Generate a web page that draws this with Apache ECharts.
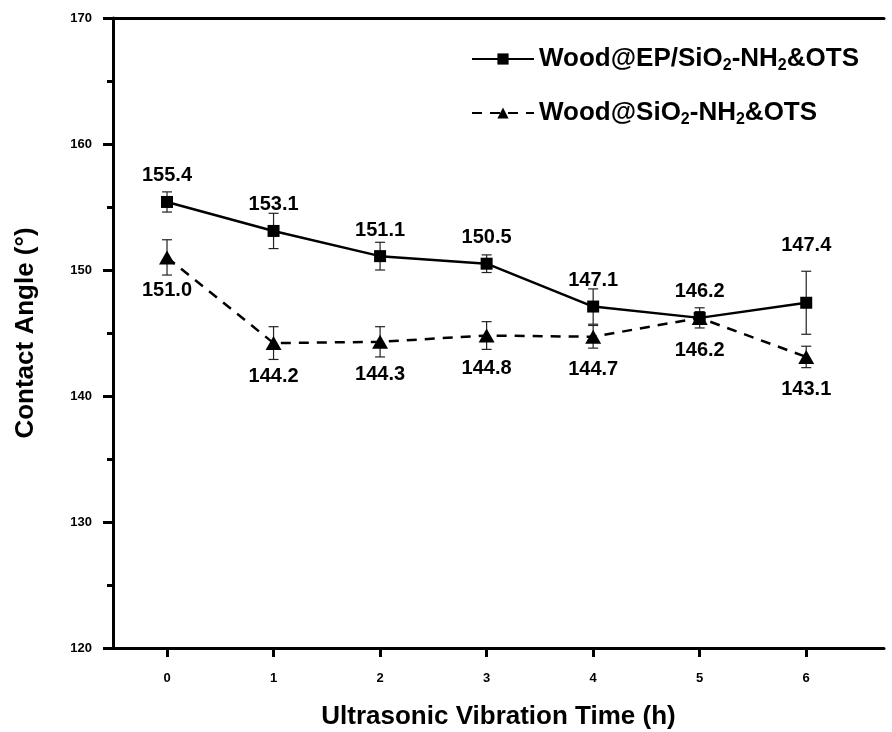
<!DOCTYPE html>
<html>
<head>
<meta charset="utf-8">
<title>Contact angle vs ultrasonic vibration time</title>
<script src="https://cdn.jsdelivr.net/npm/echarts@6/dist/echarts.min.js"></script>
<style>
  html, body { margin: 0; padding: 0; background: #fff; }
  #main { width: 892px; height: 732px; }
</style>
</head>
<body>
<div id="main"></div>
<script>
// 数据
var times = [0, 1, 2, 3, 4, 5, 6];
var epValues = [155.4, 153.1, 151.1, 150.5, 147.1, 146.2, 147.4];
var epErrors = [0.8, 1.4, 1.1, 0.7, 1.4, 0.5, 2.5];
var siValues = [151.0, 144.2, 144.3, 144.8, 144.7, 146.2, 143.1];
var siErrors = [1.4, 1.3, 1.2, 1.1, 0.9, 0.8, 0.85];
var yTicks = [120, 130, 140, 150, 160, 170];

var FONT = 'Liberation Sans, Arial, sans-serif';

var chart = echarts.init(document.getElementById('main'));

function pairs(vals) {
    return times.map(function (t, i) { return [t, vals[i]]; });
}
function errData(vals, errs) {
    return times.map(function (t, i) { return [t, vals[i], errs[i]]; });
}

// 误差棒
function renderErr(params, api) {
    var x = api.value(0), y = api.value(1), e = api.value(2);
    var hi = api.coord([x, y + e]);
    var lo = api.coord([x, y - e]);
    var w = 5;
    var st = { stroke: '#222', lineWidth: 1.2 };
    return {
        type: 'group',
        children: [
            { type: 'line', shape: { x1: hi[0], y1: hi[1], x2: lo[0], y2: lo[1] }, style: st },
            { type: 'line', shape: { x1: hi[0] - w, y1: hi[1], x2: hi[0] + w, y2: hi[1] }, style: st },
            { type: 'line', shape: { x1: lo[0] - w, y1: lo[1], x2: lo[0] + w, y2: lo[1] }, style: st }
        ]
    };
}

var labelFont = { fontFamily: FONT, fontWeight: 'bold', fontSize: 20, color: '#000' };

var epData = pairs(epValues).map(function (p, i) {
    // 最后一点误差棒较长，标签抬高
    return i === 6 ? { value: p, label: { distance: 41 } } : p;
});

var richText = {
    sub: { fontSize: 16, fontWeight: 'bold', fontFamily: FONT, color: '#000', padding: [14, 0, 0, 0] }
};

var option = {
    backgroundColor: '#fff',
    animation: false,
    grid: { left: 113, top: 18, right: 8, bottom: 84, outerBoundsMode: 'none' },
    legend: {
        orient: 'vertical',
        left: 466,
        top: 41,
        itemWidth: 62,
        itemHeight: 14,
        itemGap: 26,
        data: ['ep', 'si'],
        formatter: function (name) {
            return name === 'ep'
                ? 'Wood@EP/SiO{sub|2}-NH{sub|2}&OTS'
                : 'Wood@SiO{sub|2}-NH{sub|2}&OTS';
        },
        textStyle: {
            fontFamily: FONT, fontWeight: 'bold', fontSize: 26, color: '#000',
            rich: richText
        }
    },
    xAxis: [{
        type: 'value',
        min: -0.507,
        max: 6.73,
        name: 'Ultrasonic Vibration Time (h)',
        nameLocation: 'middle',
        nameGap: 56,
        nameTextStyle: { fontFamily: FONT, fontWeight: 'bold', fontSize: 26, color: '#000' },
        axisLine: { onZero: false, lineStyle: { color: '#000', width: 3 } },
        axisTick: { customValues: times, length: 9, inside: false, lineStyle: { width: 3, color: '#000' } },
        axisLabel: { customValues: times, margin: 24, fontFamily: FONT, fontWeight: 'bold', fontSize: 13, color: '#000' },
        splitLine: { show: false }
    }, {
        type: 'value',
        position: 'top',
        min: -0.507,
        max: 6.73,
        axisLine: { show: true, onZero: false, lineStyle: { color: '#000', width: 3 } },
        axisTick: { show: false },
        axisLabel: { show: false },
        splitLine: { show: false }
    }],
    yAxis: {
        type: 'value',
        min: yTicks[0],
        max: yTicks[yTicks.length - 1],
        interval: 10,
        name: 'Contact Angle (°)',
        nameLocation: 'middle',
        nameGap: 74,
        nameTextStyle: { fontFamily: FONT, fontWeight: 'bold', fontSize: 26, color: '#000' },
        axisLine: { show: true, onZero: false, lineStyle: { color: '#000', width: 3 } },
        axisTick: { show: true, length: 10, lineStyle: { width: 3, color: '#000' } },
        minorTick: { show: true, splitNumber: 2, length: 6, lineStyle: { width: 3, color: '#000' } },
        axisLabel: { margin: 21, fontFamily: FONT, fontWeight: 'bold', fontSize: 13, color: '#000' },
        splitLine: { show: false }
    },
    series: [{
        type: 'custom',
        renderItem: renderErr,
        data: errData(epValues, epErrors),
        z: 1,
        silent: true
    }, {
        type: 'custom',
        renderItem: renderErr,
        data: errData(siValues, siErrors),
        z: 1,
        silent: true
    }, {
        name: 'ep',
        type: 'line',
        data: epData,
        symbol: 'rect',
        symbolSize: 12,
        itemStyle: { color: '#000' },
        lineStyle: { color: '#000', width: 2.5 },
        label: Object.assign({ show: true, position: 'top', distance: 10, formatter: function (p) { return p.value[1].toFixed(1); } }, labelFont),
        z: 3
    }, {
        name: 'si',
        type: 'line',
        data: pairs(siValues),
        symbol: 'triangle',
        symbolSize: [16, 14],
        itemStyle: { color: '#000' },
        lineStyle: { color: '#000', width: 2.5, type: [10, 8] },
        label: Object.assign({ show: true, position: 'bottom', distance: 16, formatter: function (p) { return p.value[1].toFixed(1); } }, labelFont),
        z: 3
    }]
};

chart.setOption(option);
</script>
</body>
</html>
